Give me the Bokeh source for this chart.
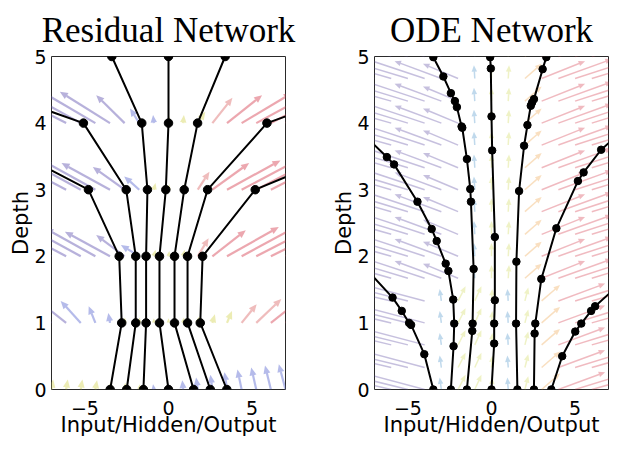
import math
from bokeh.plotting import figure
from bokeh.models import Range1d, FixedTicker, ColumnDataSource
from bokeh.layouts import row
from bokeh.embed import file_html
from bokeh.resources import INLINE

# ---------------- data: Residual Network ----------------
RES_DEPTH = [0, 1, 2, 3, 4, 5]
RES_TRAJ_X = [
    [-3.49, -2.80, -2.95, -4.79, -12.4, -20.0],
    [-2.50, -1.96, -1.96, -2.53, -5.09, -16.3],
    [-1.50, -1.34, -1.34, -1.26, -1.60, -3.39],
    [0.00, -0.54, -0.54, -0.16, 0.00, 0.00],
    [1.50, 0.36, 0.36, 0.94, 1.74, 3.39],
    [2.50, 1.14, 1.14, 2.34, 5.89, 16.9],
    [3.49, 1.90, 2.04, 5.19, 14.7, 24.0],
]
# residual vector field (one row per layer)
RES_Q_ROWS = [0, 1, 2, 3, 4]
RES_Q_X = [-7, -6.125, -5.25, -4.375, -3.5, -2.625, -1.75, -0.875, 0,
           0.875, 1.75, 2.625, 3.5, 4.375, 5.25, 6.125, 7]
RES_Q_DX = [
    [0.1, 0.1, 0.1, 0.1, 0.08, 0.05, 0.03, -0.05, -0.05, -0.05, -0.1, -0.12, -0.15, -0.25, -0.3, -0.35, -0.4],
    [-2.6, -2.0, -1.2, -0.4, -0.1, 0.02, 0.02, 0.0, 0.0, 0.05, 0.1, 0.15, 0.3, 0.9, 1.5, 2.0, 2.6],
    [-3.6, -3.4, -3.2, -3.0, -2.7, -1.7, -1.1, 0.1, 0.05, 0.1, 0.65, 2.0, 3.1, 3.3, 3.5, 3.6, 3.7],
    [-3.7, -3.5, -3.3, -3.1, -2.9, -1.9, -0.9, 0.1, 0.05, 0.15, 0.7, 2.2, 3.2, 3.4, 3.5, 3.6, 3.7],
    [-3.8, -3.6, -3.4, -3.2, -3.0, -1.7, -0.55, -0.05, 0.05, 0.05, 0.45, 1.2, 2.1, 3.0, 3.4, 3.6, 3.8],
]
RES_Q_DY = [
    [0.15, 0.15, 0.15, 0.14, 0.12, 0.1, 0.08, 0.08, 0.1, 0.14, 0.18, 0.22, 0.26, 0.3, 0.33, 0.36, 0.38],
    [0.42, 0.4, 0.33, 0.25, 0.15, 0.08, 0.08, 0.07, 0.07, 0.08, 0.1, 0.13, 0.18, 0.28, 0.36, 0.4, 0.42],
    [0.45, 0.45, 0.44, 0.42, 0.37, 0.32, 0.17, 0.1, 0.08, 0.1, 0.27, 0.39, 0.44, 0.45, 0.45, 0.45, 0.45],
    [0.46, 0.46, 0.45, 0.43, 0.4, 0.34, 0.2, 0.1, 0.08, 0.1, 0.27, 0.4, 0.44, 0.45, 0.46, 0.46, 0.46],
    [0.47, 0.47, 0.47, 0.47, 0.47, 0.42, 0.22, 0.12, 0.1, 0.12, 0.17, 0.38, 0.42, 0.45, 0.46, 0.47, 0.47],
]

# ---------------- data: ODE Network ----------------
ODE_TRAJ_T = [
    [0.0, 0.53, 0.97, 1.0, 1.18, 1.38, 2.0],
    [0.0, 0.65, 0.99, 1.35, 1.78, 1.89, 2.23, 2.41, 2.82, 3.38, 3.49, 3.9],
    [0.0, 0.88, 0.99, 1.81, 2.82, 3.01, 3.46, 3.93, 3.95, 4.24, 4.33, 4.45, 4.70, 4.99],
    [0.0, 0.69, 0.99, 1.34, 2.29, 3.59, 4.10, 4.82, 4.99],
    [0.0, 0.99, 1.92, 2.98, 3.66, 3.97, 4.26, 4.31, 4.36, 4.81, 4.99],
    [0.0, 0.84, 0.99, 1.66, 2.42, 3.13, 3.26, 3.60, 3.9],
    [0.0, 0.50, 0.87, 0.99, 1.18, 1.25, 1.6],
]
ODE_TRAJ_X = [
    [-3.48, -4.02, -4.81, -4.93, -5.37, -5.92, -8.2],
    [-2.43, -2.27, -2.23, -2.29, -2.58, -2.74, -3.28, -3.58, -4.43, -5.83, -6.26, -7.95],
    [-1.47, -1.15, -1.13, -1.07, -1.23, -1.27, -1.47, -1.75, -1.79, -2.07, -2.19, -2.43, -2.88, -3.48],
    [0.0, 0.16, 0.16, 0.2, 0.2, 0.04, 0.0, -0.04, -0.08],
    [1.55, 1.47, 1.49, 1.65, 1.95, 2.15, 2.35, 2.43, 2.54, 3.06, 3.28],
    [2.54, 2.58, 2.62, 2.98, 3.88, 5.17, 5.51, 6.56, 7.9],
    [3.58, 4.23, 5.01, 5.37, 5.96, 6.2, 7.75],
]
ODE_Q_T = [0.0, 0.33, 0.67, 1.0, 1.33, 1.67, 2.0, 2.33, 2.67, 3.0, 3.33, 3.67, 4.0, 4.33, 4.67, 5.0]
ODE_Q_X = [-7, -6, -5, -4, -3, -2, -1, 0, 1, 2, 3, 4, 5, 6, 7]
ODE_BAND_SPLIT = 1.5
ODE_DX_LOW = [-5.0, -4.6, -4.2, -3.6, -0.1, 0.45, 0.4, 0.05, -0.05, 0.2, 1.1, 2.8, 3.6, 4.2, 4.8]
ODE_DY_LOW = [0.28, 0.27, 0.26, 0.24, 0.18, 0.22, 0.22, 0.18, 0.18, 0.2, 0.24, 0.26, 0.28, 0.3, 0.32]
ODE_DX_HIGH = [-5.0, -4.6, -4.2, -3.6, -2.8, -2.1, -0.05, 0.0, 0.05, 1.0, 2.6, 3.2, 3.8, 4.3, 4.8]
ODE_DY_HIGH = [0.34, 0.33, 0.32, 0.3, 0.26, 0.22, 0.2, 0.2, 0.2, 0.22, 0.26, 0.29, 0.31, 0.33, 0.34]

X_TICKS = [-5, 0, 5]
X_TICK_LABELS = {-5: "\u22125", 0: "0", 5: "5"}
Y_TICKS = [0, 1, 2, 3, 4, 5]

# ---------------- styling ----------------
FW, FH = 234, 333
XMIN, XMAX, YMIN, YMAX = -7, 7, 0, 5
SX = FW / (XMAX - XMIN)
SY = FH / (YMAX - YMIN)
TOP, BOTTOM = 56, 58

RES_PALETTE = ["#6f63b8", "#6b78d6", "#d9d96a", "#e07a7a", "#d9505f"]
ODE_PALETTE = ["#6a5aa8", "#5a9ccc", "#d4dc6a", "#f0aa5a", "#d84a5a"]


def pick(dx, pal):
    if dx < -1.5:
        return pal[0]
    if dx < -0.02:
        return pal[1]
    if dx <= 0.6:
        return pal[2]
    if dx <= 1.8:
        return pal[3]
    return pal[4]


def arrows(xs, ys, dxs, dys, pal, head_w, head_l):
    seg = dict(x0=[], y0=[], x1=[], y1=[], c=[])
    head = dict(xs=[], ys=[], c=[])
    for x, y, dx, dy in zip(xs, ys, dxs, dys):
        px, py = dx * SX, dy * SY
        L = math.hypot(px, py)
        if L == 0:
            continue
        ux, uy = px / L, py / L
        hl = min(head_l, L * 0.9)
        hw = head_w * hl / head_l
        bx, by = px - ux * hl, py - uy * hl
        col = pick(dx, pal)
        if L > hl + 0.5:
            seg["x0"].append(x)
            seg["y0"].append(y)
            seg["x1"].append(x + bx / SX)
            seg["y1"].append(y + by / SY)
            seg["c"].append(col)
        lx, ly = bx - uy * hw / 2, by + ux * hw / 2
        rx, ry = bx + uy * hw / 2, by - ux * hw / 2
        head["xs"].append([x + px / SX, x + lx / SX, x + rx / SX])
        head["ys"].append([y + py / SY, y + ly / SY, y + ry / SY])
        head["c"].append(col)
    return ColumnDataSource(seg), ColumnDataSource(head)


def make_fig(title, left, right):
    p = figure(width=left + FW + right, height=TOP + FH + BOTTOM,
               x_range=Range1d(XMIN, XMAX), y_range=Range1d(YMIN, YMAX),
               output_backend="svg", toolbar_location=None,
               min_border_left=left, min_border_right=right,
               min_border_top=TOP, min_border_bottom=BOTTOM)
    p.title.text = title
    p.title.text_font = "Liberation Serif"
    p.title.text_font_size = "35px"
    p.title.text_font_style = "normal"
    p.title.text_color = "black"
    p.title.align = "center"
    p.title.standoff = 13
    p.grid.visible = False
    p.outline_line_color = "#2a2a2a"
    p.outline_line_width = 1
    p.background_fill_color = "white"
    p.border_fill_color = "white"
    for ax in (p.xaxis[0], p.yaxis[0]):
        ax.axis_line_color = None
        ax.major_tick_line_color = None
        ax.minor_tick_line_color = None
        ax.major_tick_out = 0
        ax.major_tick_in = 0
        ax.major_label_text_font = "DejaVu Sans"
        ax.major_label_text_font_size = "19px"
        ax.major_label_text_color = "black"
        ax.axis_label_text_font = "DejaVu Sans"
        ax.axis_label_text_font_size = "21px"
        ax.axis_label_text_font_style = "normal"
        ax.axis_label_text_color = "black"
    p.xaxis.major_label_standoff = 11
    p.xaxis.axis_label_standoff = -5
    p.yaxis.major_label_standoff = 5
    p.yaxis.axis_label_standoff = -2
    p.xaxis.ticker = FixedTicker(ticks=X_TICKS)
    p.xaxis.major_label_overrides = X_TICK_LABELS
    p.yaxis.ticker = FixedTicker(ticks=Y_TICKS)
    p.xaxis.axis_label = "Input/Hidden/Output"
    p.yaxis.axis_label = "Depth"
    return p


def draw_field(p, seg_src, head_src, width, alpha):
    p.segment(x0="x0", y0="y0", x1="x1", y1="y1", source=seg_src,
              line_color="c", line_alpha=alpha, line_width=width)
    p.patches(xs="xs", ys="ys", source=head_src, fill_color="c",
              fill_alpha=alpha, line_color=None)


# ---------- Residual figure ----------
p1 = make_fig("Residual Network", 51, 33)
rx, ry, rdx, rdy = [], [], [], []
for r, yrow in enumerate(RES_Q_ROWS):
    for c, xc in enumerate(RES_Q_X):
        rx.append(xc)
        ry.append(yrow)
        rdx.append(RES_Q_DX[r][c])
        rdy.append(RES_Q_DY[r][c])
s_seg, s_head = arrows(rx, ry, rdx, rdy, RES_PALETTE, 7.0, 8.0)
draw_field(p1, s_seg, s_head, 2.2, 0.5)
p1.multi_line(xs=RES_TRAJ_X, ys=[RES_DEPTH] * len(RES_TRAJ_X),
              line_color="black", line_width=2)
p1.scatter(x=[v for tr in RES_TRAJ_X for v in tr],
           y=[d for tr in RES_TRAJ_X for d in RES_DEPTH],
           size=8.5, color="black")

# ---------- ODE figure ----------
p2 = make_fig("ODE Network", 56, 16)
ox, oy, odx, ody = [], [], [], []
for t in ODE_Q_T:
    low = t < ODE_BAND_SPLIT
    for c, xc in enumerate(ODE_Q_X):
        ox.append(xc)
        oy.append(t)
        odx.append(ODE_DX_LOW[c] if low else ODE_DX_HIGH[c])
        ody.append(ODE_DY_LOW[c] if low else ODE_DY_HIGH[c])
o_seg, o_head = arrows(ox, oy, odx, ody, ODE_PALETTE, 5.5, 6.5)
draw_field(p2, o_seg, o_head, 1.5, 0.38)
p2.multi_line(xs=ODE_TRAJ_X, ys=ODE_TRAJ_T, line_color="black", line_width=2)
p2.scatter(x=[v for tr in ODE_TRAJ_X for v in tr],
           y=[v for tr in ODE_TRAJ_T for v in tr],
           size=7.5, color="black")

layout = row(p1, p2)
open("out.html", "w").write(file_html(layout, INLINE))
